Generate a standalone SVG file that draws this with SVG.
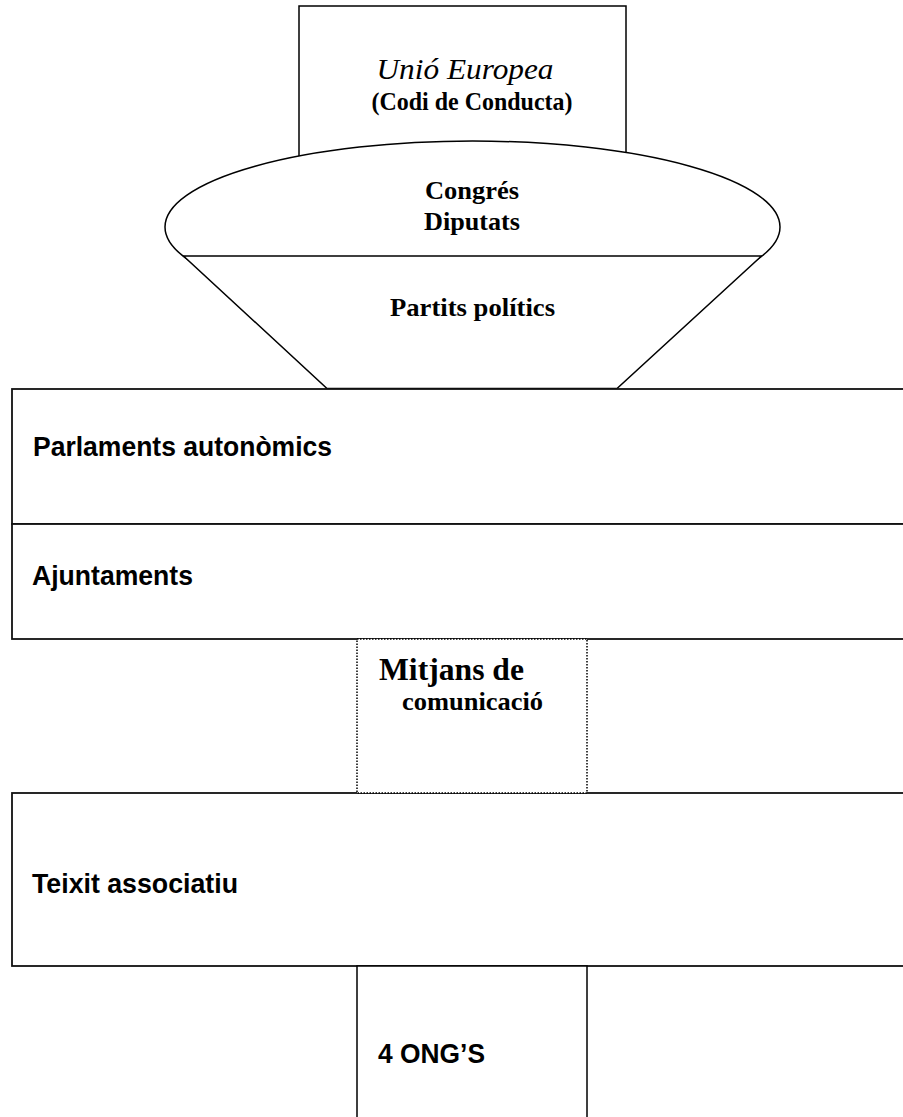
<svg xmlns="http://www.w3.org/2000/svg" width="903" height="1117" viewBox="0 0 903 1117">
  <style>
    .shape { fill: #ffffff; stroke: #000000; stroke-width: 1.5; }
    .box { fill: #ffffff; stroke: #111111; stroke-width: 1.8; }
    .dotted { fill: #ffffff; stroke: #000000; stroke-width: 1.5; stroke-dasharray: 1.5 1.5; }
    .serif { font-family: "Liberation Serif", "Times New Roman", serif; fill: #000000; }
    .sans { font-family: "Liberation Sans", Arial, sans-serif; font-weight: bold; fill: #000000; }
    .b { font-weight: bold; }
    .i { font-style: italic; }
  </style>
  <rect x="0" y="0" width="903" height="1117" fill="#ffffff"/>

  <g id="unio-europea">
    <rect class="shape" x="299" y="6" width="327" height="170"/>
    <text class="serif i" x="465" y="79" font-size="29" text-anchor="middle" textLength="177" lengthAdjust="spacingAndGlyphs">Unió Europea</text>
    <text class="serif b" x="472" y="110" font-size="25" text-anchor="middle" textLength="201" lengthAdjust="spacingAndGlyphs">(Codi de Conducta)</text>
  </g>

  <g id="congres-diputats">
    <ellipse class="shape" cx="472.5" cy="227" rx="307.5" ry="86"/>
    <text class="serif b" x="472" y="199" font-size="26" text-anchor="middle" textLength="94" lengthAdjust="spacingAndGlyphs">Congrés</text>
    <text class="serif b" x="472" y="230" font-size="26" text-anchor="middle" textLength="96" lengthAdjust="spacingAndGlyphs">Diputats</text>
  </g>

  <g id="partits-politics">
    <polygon class="shape" points="183.5,256 761.5,256 617,388.5 327,388.5"/>
    <text class="serif b" x="472.5" y="316" font-size="26" text-anchor="middle" textLength="165" lengthAdjust="spacingAndGlyphs">Partits polítics</text>
  </g>

  <g id="parlaments-autonomics">
    <rect class="box" x="12" y="389" width="900" height="135"/>
    <text class="sans" x="33" y="456" font-size="27" textLength="299" lengthAdjust="spacingAndGlyphs">Parlaments autonòmics</text>
  </g>

  <g id="ajuntaments">
    <rect class="box" x="12" y="524" width="900" height="115"/>
    <text class="sans" x="32" y="585" font-size="27" textLength="161" lengthAdjust="spacingAndGlyphs">Ajuntaments</text>
  </g>

  <g id="teixit-associatiu">
    <rect class="box" x="12" y="793" width="900" height="173"/>
    <text class="sans" x="32" y="893" font-size="27" textLength="206" lengthAdjust="spacingAndGlyphs">Teixit associatiu</text>
  </g>

  <g id="mitjans-comunicacio">
    <rect class="dotted" x="357" y="639" width="230" height="154"/>
    <text class="serif b" x="379" y="680" font-size="31" textLength="145" lengthAdjust="spacingAndGlyphs">Mitjans de</text>
    <text class="serif b" x="402" y="710" font-size="26" textLength="141" lengthAdjust="spacingAndGlyphs">comunicació</text>
  </g>

  <g id="ongs">
    <rect class="shape" x="357" y="966" width="230" height="160"/>
    <text class="sans" x="378" y="1063" font-size="27" textLength="107" lengthAdjust="spacingAndGlyphs">4 ONG’S</text>
  </g>
</svg>
